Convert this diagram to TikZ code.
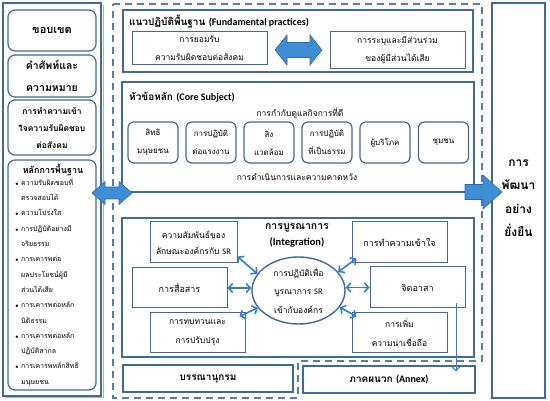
\documentclass[tikz,border=0pt]{standalone}
\usepackage{fontspec}
\setmainfont[Script=Thai]{Loma}
\newfontfamily\en{Carlito}
\usetikzlibrary{arrows.meta,shapes.geometric,calc}
\definecolor{frame}{HTML}{3C6BA3}
\definecolor{dashc}{HTML}{4B7FBF}
\definecolor{arrfill}{HTML}{3F8DD4}
\definecolor{arredge}{HTML}{2E6DAD}
\definecolor{lnk}{HTML}{2F7DD8}
\newcommand\myfs[2]{\fontsize{#1}{#2}\selectfont}
\newcommand\bul{\makebox[6pt][l]{$\scriptstyle\bullet$}}
\newcommand\ind{\hspace*{6pt}}
\begin{document}
\begin{tikzpicture}[x=1pt,y=-1pt,
  box/.style={draw=frame,line width=1.2pt,fill=white,inner sep=0pt,align=center},
  rbox/.style={box,rounded corners=7pt},
  wh/.style 2 args={minimum width=#1pt,minimum height=#2pt},
  lbl/.style={inner sep=0pt,align=center},
  bigarrow/.style={fill=arrfill,draw=arredge,line width=0.6pt},
  lnkarrow/.style={lnk,line width=1.6pt,{Straight Barb[length=4pt,width=9pt]}-{Straight Barb[length=4pt,width=9pt]}},
  thinarrow/.style={lnk,line width=1pt,-{Straight Barb[length=4pt,width=8pt]}}]
\useasboundingbox (0,0) rectangle (550,401);
\fill[white] (0,0) rectangle (550,401);
% dashed frame
\draw[dashc,line width=1.3pt,dash pattern=on 7pt off 5pt] (113,4) -- (482,4) -- (482,361) -- (298,361) -- (298,398) -- (113,398) -- cycle;
% left panel
\draw[gray!60,line width=1pt] (5,398) -- (103,398) -- (103,5);
\node[box,wh={98}{393}] (left) at (52,199.5) {};
\node[rbox,wh={88}{41},font=\myfs{11}{22}\bfseries] (scope) at (52,30.5) {ขอบเขต};
\node[rbox,wh={88}{42},font=\myfs{10.5}{22}\bfseries] (terms) at (52,76) {คำศัพท์และ\\ความหมาย};
\node[rbox,wh={88}{55},font=\myfs{8.5}{17}\bfseries] (under) at (52,127.5) {การทำความเข้า\\ใจความรับผิดชอบ\\ต่อสังคม};
\node[rbox,wh={88}{230}] (princ) at (52,275) {};
\node[lbl,font=\myfs{9}{12}\bfseries] (ptitle) at (53,170) {หลักการพื้นฐาน};
\node[anchor=north west,inner sep=0pt,align=left,font=\myfs{7}{15.3}] (plist) at (15,178) {%
\bul ความรับผิดชอบที่\\
\ind ตรวจสอบได้\\
\bul ความโปร่งใส\\
\bul การปฏิบัติอย่างมี\\
\ind จริยธรรม\\
\bul การเคารพต่อ\\
\ind ผลประโยชน์ผู้มี\\
\ind ส่วนได้เสีย\\
\bul การเคารพต่อหลัก\\
\ind นิติธรรม\\
\bul การเคารพต่อหลัก\\
\ind ปฏิบัติสากล\\
\bul การเคารพหลักสิทธิ\\
\ind มนุษยชน};
% right panel
\node[box,wh={53}{395}] (sd) at (518.5,200.5) {};
\node[lbl,font=\myfs{12}{23.5}\bfseries] (sdt) at (518.5,198) {การ\\พัฒนา\\อย่าง\\ยั่งยืน};
% fundamental practices
\node[box,wh={350}{62}] (fund) at (298,41) {};
\node[anchor=west,inner sep=0pt,font=\myfs{10}{12}\bfseries] (fundt) at (129,22) {แนวปฏิบัติพื้นฐาน {\en (Fundamental practices)}};
\node[box,line width=1pt,wh={135}{33},font=\myfs{8.5}{18}] (fa) at (199.5,48.5) {การยอมรับ\\ความรับผิดชอบต่อสังคม};
\node[box,line width=1pt,wh={135}{37},font=\myfs{8.5}{18}] (fb) at (397.5,50.5) {การระบุและมีส่วนร่วม\\ของผู้มีส่วนได้เสีย};
\filldraw[bigarrow] (275,50) -- (287,35) -- (287,42.5) -- (310,42.5) -- (310,35) -- (322,50) -- (310,65) -- (310,57.5) -- (287,57.5) -- (287,65) -- cycle;
% core subject
\node[box,wh={352}{110}] (core) at (298,137) {};
\node[anchor=west,inner sep=0pt,font=\myfs{10}{12}\bfseries] (coret) at (129,97) {หัวข้อหลัก {\en (Core Subject)}};
\node[lbl,font=\myfs{8.5}{10}] (gov) at (300,113) {การกำกับดูแลกิจการที่ดี};
\node[rbox,rounded corners=6pt,wh={50}{41},font=\myfs{8}{18}] (c1) at (153,142.5) {สิทธิ\\มนุษยชน};
\node[rbox,rounded corners=6pt,wh={50}{41},font=\myfs{8}{18}] (c2) at (211,142.5) {การปฏิบัติ\\ต่อแรงงาน};
\node[rbox,rounded corners=6pt,wh={50}{41},font=\myfs{8}{18}] (c3) at (269,142.5) {สิ่ง\\แวดล้อม};
\node[rbox,rounded corners=6pt,wh={50}{41},font=\myfs{8}{18}] (c4) at (327,142.5) {การปฏิบัติ\\ที่เป็นธรรม};
\node[rbox,rounded corners=6pt,wh={50}{41},font=\myfs{8}{18}] (c5) at (385,142.5) {ผู้บริโภค};
\node[rbox,rounded corners=6pt,wh={50}{41},font=\myfs{8}{18}] (c6) at (443.5,142.5) {ชุมชน};
\node[lbl,font=\myfs{8.5}{10}] (ops) at (297,177) {การดำเนินการและความคาดหวัง};
% integration
\node[box,wh={352}{139}] (integ) at (298,287.5) {};
\node[lbl,font=\myfs{10.5}{16}\bfseries] (integt) at (297,235) {การบูรณาการ\\{\en (Integration)}};
\node[ellipse,draw=frame,line width=1.4pt,fill=white,inner sep=0pt,minimum width=93pt,minimum height=67pt,align=center,font=\myfs{8.5}{18.5}] (E) at (298.5,290.5) {การปฏิบัติเพื่อ\\บูรณาการ {\en SR}\\เข้ากับองค์กร};
\node[box,line width=1pt,wh={87}{41},font=\myfs{8.5}{16}] (L1) at (193.5,242.5) {ความสัมพันธ์ของ\\ลักษณะองค์กรกับ {\en SR}};
\node[box,line width=1pt,wh={95}{40},font=\myfs{9}{18}] (L2) at (179.5,288) {การสื่อสาร};
\node[box,line width=1pt,wh={95}{40},font=\myfs{8.5}{19}] (L3) at (197.5,333) {การทบทวนและ\\การปรับปรุง};
\node[box,line width=1pt,wh={95}{41},font=\myfs{9}{18}] (R1) at (399.5,242.5) {การทำความเข้าใจ};
\node[box,line width=1pt,wh={95}{41},font=\myfs{9}{18}] (R2) at (417.5,287.5) {จิตอาสา};
\node[box,line width=1pt,wh={95}{40},font=\myfs{8.5}{19}] (R3) at (399.5,333) {การเพิ่ม\\ความน่าเชื่อถือ};
\draw[lnkarrow] ([yshift=7pt]L1.south east) -- (E.158);
\draw[lnkarrow] (L2.east) -- (L2.east -| E.west);
\draw[lnkarrow] ([xshift=-6pt,yshift=-4pt]L3.north east) -- (E.203);
\draw[lnkarrow] (E.25) -- ([xshift=5pt,yshift=5pt]R1.south west);
\draw[lnkarrow] (R2.west -| E.east) -- (R2.west);
\draw[lnkarrow] (E.-22) -- ([xshift=5pt,yshift=-4pt]R3.north west);
% bottom boxes
\node[box,wh={170}{27},font=\myfs{10}{12}\bfseries] (bib) at (208,378.5) {บรรณานุกรม};
\node[box,wh={172}{27},font=\myfs{10}{12}\bfseries] (annex) at (389,379.5) {ภาคผนวก {\en (Annex)}};
\draw[thinarrow] ([xshift=38.5pt,yshift=5pt]R2.south) -- ($(R2.south |- annex.north)+(38.5,6)$);
% big arrows
\filldraw[bigarrow] (92,193) -- (105,181.5) -- (105,187) -- (119,187) -- (119,181.5) -- (132,193) -- (119,204.5) -- (119,199) -- (105,199) -- (105,204.5) -- cycle;
\filldraw[bigarrow] (465,184.5) -- (483,184.5) -- (483,175) -- (502,192) -- (483,209) -- (483,199.5) -- (465,199.5) -- cycle;
\end{tikzpicture}
\end{document}
